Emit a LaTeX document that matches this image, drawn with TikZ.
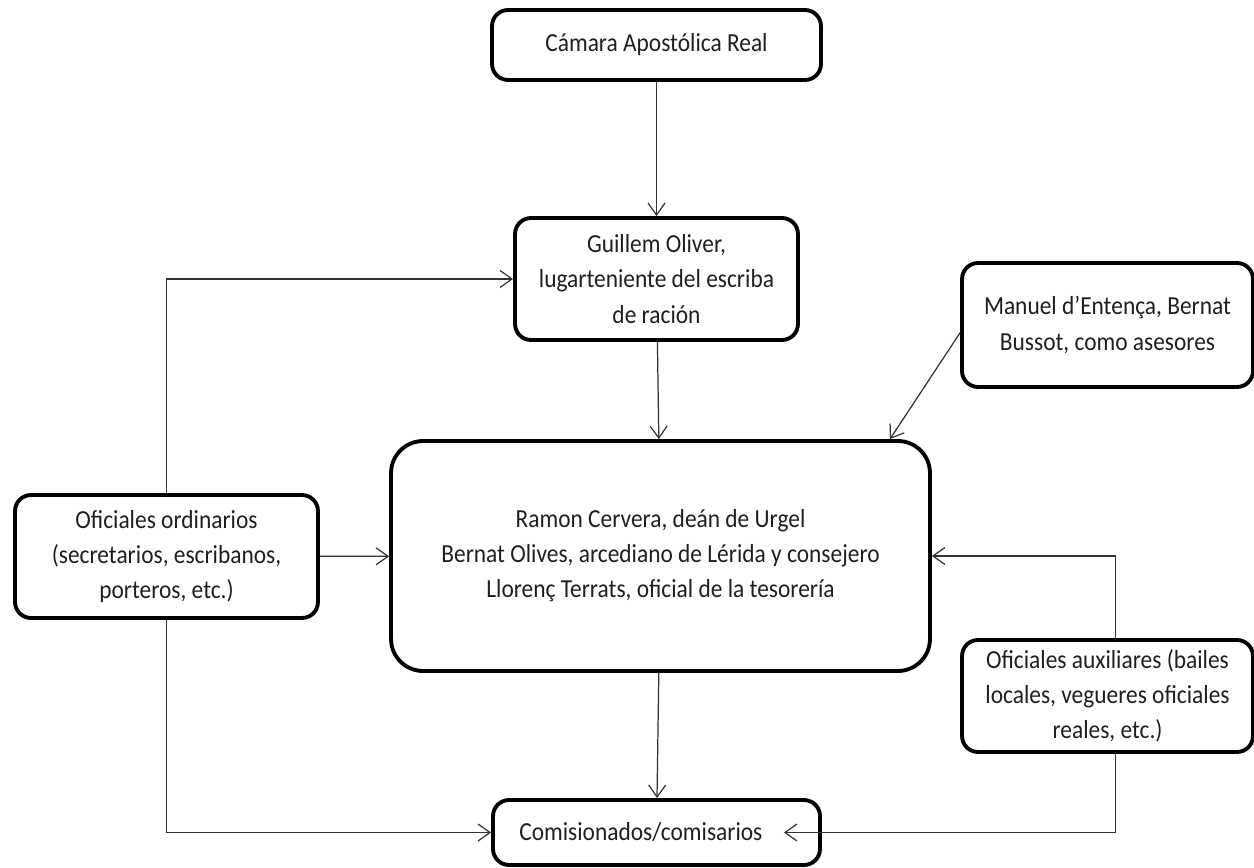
\documentclass[tikz,border=0pt]{standalone}
\usepackage{fontspec}
\setmainfont{Carlito}[FakeStretch=0.9]
\usetikzlibrary{arrows.meta}

\begin{document}
\begin{tikzpicture}[x=0.02cm, y=-0.02cm,
    box/.style={draw, line width=2.2pt, rounded corners=0.32cm, align=center, text=black!88, font=\fontsize{14.8}{20}\selectfont, inner sep=2pt},
    link/.style={line width=0.7pt, black!80, -{Straight Barb[length=0.24cm, width=0.34cm]}}]
    \useasboundingbox (0,0) rectangle (1254,868);

    % Centre column
    \node[box, minimum width=6.58cm, minimum height=1.4cm] (camara) at (656.5,45) {Cámara Apostólica Real};
    \node[box, minimum width=5.66cm, minimum height=2.44cm] (guillem) at (656.5,279) {Guillem Oliver,\\lugarteniente del escriba\\de ración};
    \node[box, rounded corners=0.64cm, minimum width=10.78cm, minimum height=4.6cm] (nucleo) at (660.5,556) {Ramon Cervera, deán de Urgel\\Bernat Olives, arcediano de Lérida y consejero\\Llorenç Terrats, oficial de la tesorería};
    \node[box, minimum width=6.54cm, minimum height=1.3cm] (comisarios) at (656.5,832.5) {Comisionados/comisarios\hspace{1.2em}};

    % Left: ordinary officials
    \node[box, minimum width=6.06cm, minimum height=2.46cm] (ordinarios) at (166.5,556.5) {Oficiales ordinarios\\(secretarios, escribanos,\\porteros, etc.)};

    % Right: advisers and auxiliary officials
    \node[box, minimum width=5.82cm, minimum height=2.48cm] (asesores) at (1107.5,325) {Manuel d’Entença, Bernat\\Bussot, como asesores};
    \node[box, minimum width=5.82cm, minimum height=2.24cm] (auxiliares) at (1107.5,696) {Oficiales auxiliares (bailes\\locales, vegueres oficiales\\reales, etc.)};

    % Connectors
    \draw[link] (camara) -- (guillem);
    \draw[link] (guillem) -- (nucleo);
    \draw[link] (nucleo) -- (comisarios);
    \draw[link] (ordinarios) -- (nucleo);
    \draw[link] (ordinarios.north) |- (guillem.west);
    \draw[link] (ordinarios.south) |- (comisarios.west);
    \draw[link] (asesores.183) -- (nucleo.27);
    \draw[link] ([xshift=0.16cm]auxiliares.north) |- (nucleo.east);
    \coordinate (comtip) at ([xshift=-0.76cm]comisarios.east);
    \draw[link] ([xshift=0.16cm]auxiliares.south) |- (comtip);
\end{tikzpicture}
\end{document}
